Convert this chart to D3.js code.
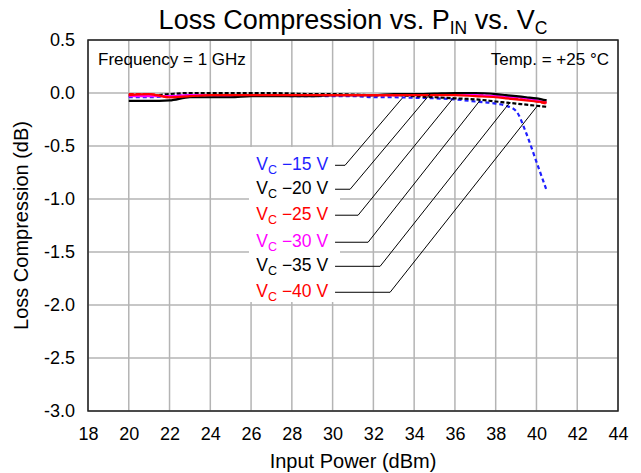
<!DOCTYPE html>
<html>
<head>
<meta charset="utf-8">
<script src="https://cdn.jsdelivr.net/npm/d3@7/dist/d3.min.js"></script>
<style>
  body { margin: 0; background: #fff; }
  svg { font-family: "Liberation Sans", Arial, sans-serif; }
</style>
</head>
<body>
<svg class="canvas" width="641" height="473"></svg>
<script>
// input power points (dBm)
var pin = [20, 21, 22, 23, 24, 25, 26, 27, 28, 29, 30, 31, 32, 33, 34, 35, 36, 37, 38, 38.5, 39, 39.5, 40, 40.5];

var vc15 = [-0.04, -0.04, -0.03, -0.02, -0.02, -0.02, -0.02, -0.02, -0.03, -0.03, -0.03, -0.03, -0.04, -0.04, -0.045, -0.05, -0.06, -0.08, -0.10, -0.12, -0.17, -0.38, -0.65, -0.92];
var vc20 = [-0.025, -0.025, -0.01, 0.0, 0.0, 0.0, 0.0, 0.0, -0.005, -0.01, -0.01, -0.015, -0.02, -0.02, -0.03, -0.04, -0.05, -0.06, -0.08, -0.09, -0.10, -0.11, -0.12, -0.13];
var vc25 = [-0.01, -0.01, -0.04, -0.03, -0.02, -0.02, -0.02, -0.02, -0.02, -0.02, -0.02, -0.02, -0.02, -0.02, -0.01, -0.01, -0.01, -0.02, -0.03, -0.04, -0.05, -0.06, -0.08, -0.10];
var vc30 = [-0.03, -0.03, -0.03, -0.02, -0.02, -0.03, -0.02, -0.02, -0.02, -0.02, -0.02, -0.02, -0.02, -0.02, -0.01, -0.01, -0.01, -0.02, -0.03, -0.035, -0.04, -0.05, -0.07, -0.09];
var vc35 = [-0.075, -0.075, -0.07, -0.04, -0.04, -0.04, -0.03, -0.03, -0.03, -0.03, -0.02, -0.02, -0.02, -0.01, -0.01, -0.005, 0.0, 0.0, -0.01, -0.02, -0.03, -0.04, -0.05, -0.07];
var vc40 = [-0.02, -0.01, -0.04, -0.03, -0.02, -0.02, -0.02, -0.02, -0.02, -0.02, -0.02, -0.02, -0.02, -0.02, -0.02, -0.02, -0.02, -0.03, -0.04, -0.05, -0.06, -0.07, -0.08, -0.09];

var seriesNames = ["\u221215 V", "\u221220 V", "\u221225 V", "\u221230 V", "\u221235 V", "\u221240 V"];
var seriesColors = ["#1f1fff", "#000000", "#ff0000", "#ff00ff", "#000000", "#ff0000"];
var seriesDash = ["4,3", "4,2", "5,2", null, null, null];
var seriesValues = [vc15, vc20, vc25, vc30, vc35, vc40];

// leader lines: label row (dB), elbow x, point on curve (x, dB)
var leaderRowY = [-0.682, -0.908, -1.153, -1.408, -1.635, -1.88];
var leaderElbowX = [30.61, 30.86, 31.25, 31.74, 32.33, 32.82];
var leaderEndX = [33.41, 34.78, 35.91, 37.23, 38.7, 40.03];
var leaderEndY = [-0.05, -0.01, -0.05, -0.07, -0.088, -0.125];

var xTicks = d3.range(18, 45, 2);
var yTicks = [0.5, 0.0, -0.5, -1.0, -1.5, -2.0, -2.5, -3.0];

var svg = d3.select('.canvas');
var mLeft = 88, mRight = 618, mTop = 40, mBottom = 411;

var x = d3.scaleLinear().domain([18, 44]).range([mLeft, mRight]);
var y = d3.scaleLinear().domain([-3, 0.5]).range([mBottom, mTop]);

// GRID
svg.append('g').selectAll('line')
	.data(xTicks)
	.enter().append('line')
	.attr('x1', function(d){ return x(d); })
	.attr('x2', function(d){ return x(d); })
	.attr('y1', mTop).attr('y2', mBottom)
	.attr('stroke', '#b4b4b4').attr('stroke-width', 1.5);
svg.append('g').selectAll('line')
	.data(yTicks)
	.enter().append('line')
	.attr('y1', function(d){ return y(d); })
	.attr('y2', function(d){ return y(d); })
	.attr('x1', mLeft).attr('x2', mRight)
	.attr('stroke', '#b4b4b4').attr('stroke-width', 1.5);

// white box behind the labels
svg.append('rect')
	.attr('x', 249).attr('y', 147)
	.attr('width', 91).attr('height', 155)
	.attr('fill', '#fff');

// AXES (text only)
var xAxis = svg.append('g')
	.attr('transform', 'translate(0,' + mBottom + ')')
	.call(d3.axisBottom(x).tickValues(xTicks).tickSize(0).tickPadding(16));
var yAxis = svg.append('g')
	.attr('transform', 'translate(' + mLeft + ',0)')
	.call(d3.axisLeft(y).tickValues(yTicks).tickSize(0).tickPadding(13));
[xAxis, yAxis].forEach(function(a){
	a.select('.domain').remove();
	a.selectAll('text').attr('font-size', 18).attr('fill', '#000')
		.attr('font-family', '"Liberation Sans", Arial, sans-serif');
});
yAxis.selectAll('text').text(function(d){ return d.toFixed(1); });

// SERIES
var line = d3.line()
	.curve(d3.curveMonotoneX)
	.x(function(d, i){ return x(pin[i]); })
	.y(function(d){ return y(d); });

seriesValues.forEach(function(vals, i){
	svg.append('path')
		.datum(vals)
		.attr('d', line)
		.attr('fill', 'none')
		.attr('stroke', seriesColors[i])
		.attr('stroke-width', 2.2)
		.attr('stroke-dasharray', seriesDash[i]);
});

// FRAME
svg.append('rect')
	.attr('x', mLeft).attr('y', mTop)
	.attr('width', mRight - mLeft).attr('height', mBottom - mTop)
	.attr('fill', 'none').attr('stroke', '#222').attr('stroke-width', 1.5);

// LEADERS + LABELS
seriesNames.forEach(function(name, i){
	var yy = y(leaderRowY[i]);
	svg.append('polyline')
		.attr('points', [x(30.12), yy, x(leaderElbowX[i]), yy, x(leaderEndX[i]), y(leaderEndY[i])].join(','))
		.attr('fill', 'none').attr('stroke', '#000').attr('stroke-width', 1);
	var t = svg.append('text')
		.attr('x', x(29.78)).attr('y', yy + 5)
		.attr('text-anchor', 'end')
		.attr('font-size', 17.5)
		.attr('fill', seriesColors[i]);
	t.append('tspan').text('V');
	t.append('tspan').attr('font-size', 12.5).attr('dy', 4).text('C');
	t.append('tspan').attr('dy', -4).text(' ' + name);
});

// NOTES
svg.append('text').attr('x', 98).attr('y', 65).attr('font-size', 17).text('Frequency = 1 GHz');
svg.append('text').attr('x', 609).attr('y', 65).attr('font-size', 17).attr('text-anchor', 'end').text('Temp. = +25 \u00b0C');

// TITLES
var title = svg.append('text')
	.attr('x', (mLeft + mRight) / 2).attr('y', 29)
	.attr('text-anchor', 'middle')
	.attr('font-size', 27);
title.append('tspan').text('Loss Compression vs. P');
title.append('tspan').attr('font-size', 17.5).attr('dy', 5).text('IN');
title.append('tspan').attr('dy', -5).text(' vs. V');
title.append('tspan').attr('font-size', 17.5).attr('dy', 5).text('C');

svg.append('text')
	.attr('x', (mLeft + mRight) / 2).attr('y', 468)
	.attr('text-anchor', 'middle').attr('font-size', 20)
	.text('Input Power (dBm)');

svg.append('text')
	.attr('transform', 'translate(28,' + ((mTop + mBottom) / 2) + ') rotate(-90)')
	.attr('text-anchor', 'middle').attr('font-size', 20)
	.text('Loss Compression (dB)');
</script>
</body>
</html>
